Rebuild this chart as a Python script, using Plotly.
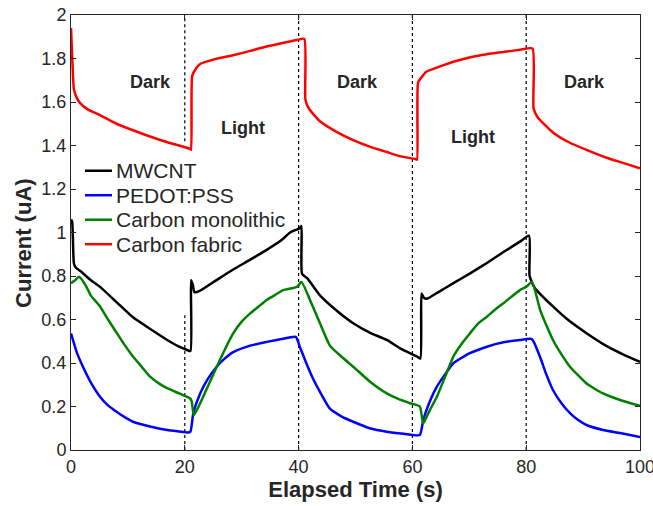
import plotly.graph_objects as go

# ---- data ----
fabric_t = [0, 0.3, 0.5, 1.0, 1.6, 3, 5.1, 8, 10.9, 14, 16.8, 19, 20.9, 21.1, 21.3, 22, 22.7, 25, 28.5, 31.5,
            34.4, 37, 39.7, 41.0, 41.2, 41.8, 43.8, 46.5, 49.6, 52.5, 55.5, 58, 60.5, 60.8, 61.0, 61.8, 62.5,
            65, 67.2, 70, 73.1, 76, 78.9, 81.1, 81.3, 82, 84.7, 87.5, 90.6, 94, 97, 100]
fabric_i = [1.94, 1.75, 1.66, 1.62, 1.595, 1.565, 1.54, 1.50, 1.47, 1.44, 1.416, 1.40, 1.384, 1.38, 1.72, 1.755,
            1.775, 1.795, 1.815, 1.835, 1.855, 1.87, 1.885, 1.89, 1.61, 1.57, 1.51, 1.465, 1.425, 1.395, 1.37,
            1.35, 1.338, 1.335, 1.69, 1.72, 1.74, 1.765, 1.785, 1.805, 1.82, 1.83, 1.84, 1.846, 1.57, 1.53,
            1.46, 1.415, 1.38, 1.345, 1.32, 1.295]

mwcnt_t = [0, 0.2, 0.5, 0.8, 2, 3.5, 5.1, 8, 10.9, 14, 16.9, 19, 20.4, 21.0, 21.1, 21.4, 21.7, 22.7, 25.5, 28.5,
           31.5, 34.4, 37, 38.5, 40.2, 40.5, 40.6, 41.5, 43.8, 46.5, 49.6, 52.5, 55.5, 58, 60.8, 61.4, 61.6,
           62, 62.5, 64.5, 67.2, 70, 73.1, 76, 78.9, 80.5, 80.6, 81.5, 84.7, 87.5, 90.6, 94, 97, 100]
mwcnt_i = [1.06, 1.05, 0.86, 0.84, 0.815, 0.78, 0.75, 0.68, 0.61, 0.555, 0.506, 0.475, 0.46, 0.455, 0.78, 0.76,
           0.725, 0.733, 0.78, 0.83, 0.875, 0.92, 0.965, 1.0, 1.02, 1.03, 0.81, 0.79, 0.71, 0.645, 0.583, 0.54,
           0.506, 0.465, 0.43, 0.42, 0.72, 0.70, 0.695, 0.725, 0.767, 0.81, 0.86, 0.91, 0.958, 0.985, 0.80,
           0.745, 0.66, 0.595, 0.537, 0.48, 0.44, 0.405]

mono_t = [0, 0.7, 1.4, 2.5, 3.5, 5.1, 6.5, 8, 9.5, 10.9, 12.5, 13.9, 15.5, 16.9, 19, 20.9, 21.2, 21.6, 22.7, 24,
          25.6, 27, 28.5, 30, 31.5, 33, 34.4, 36, 37.3, 39.7, 40.5, 42, 43.8, 45.5, 47.5, 49.6, 52.5, 55.5, 57.5,
          59.6, 61.3, 61.9, 63, 64.3, 65.8, 67.2, 68.7, 70.1, 71.5, 73.1, 74.5, 76, 78.9, 80, 81, 82.5, 84.7,
          86.2, 87.7, 90.6, 93.5, 96.5, 100]
mono_i = [0.767, 0.78, 0.796, 0.76, 0.71, 0.66, 0.60, 0.54, 0.48, 0.43, 0.38, 0.337, 0.305, 0.284, 0.26, 0.238,
          0.225, 0.16, 0.215, 0.29, 0.382, 0.46, 0.536, 0.59, 0.628, 0.66, 0.69, 0.715, 0.735, 0.75, 0.773, 0.69,
          0.58, 0.48, 0.43, 0.383, 0.315, 0.26, 0.235, 0.215, 0.2, 0.122, 0.18, 0.245, 0.34, 0.43, 0.49, 0.536,
          0.58, 0.613, 0.645, 0.675, 0.735, 0.75, 0.773, 0.64, 0.506, 0.44, 0.383, 0.306, 0.26, 0.23, 0.203]

pedot_t = [0, 1, 2.1, 3.5, 5.1, 6.5, 8, 9.5, 10.9, 13.9, 16.9, 19, 20.6, 21.0, 21.5, 22.7, 24, 25.6, 27, 28.5,
           31.5, 34.4, 37, 39.5, 40.2, 41.5, 42.5, 43.8, 45.5, 47.5, 49.6, 52.5, 55.5, 58.5, 61.3, 61.9, 63, 64.3,
           65.8, 67.2, 70.1, 73.1, 76, 78.9, 81, 82.4, 83.5, 84.7, 86.2, 87.7, 89, 90.6, 93.5, 96.5, 100]
pedot_i = [0.536, 0.45, 0.383, 0.31, 0.245, 0.205, 0.176, 0.15, 0.13, 0.108, 0.092, 0.085, 0.08, 0.085, 0.17,
           0.26, 0.325, 0.383, 0.42, 0.45, 0.48, 0.497, 0.51, 0.52, 0.475, 0.39, 0.33, 0.265, 0.19, 0.155, 0.13,
           0.1, 0.084, 0.075, 0.069, 0.138, 0.22, 0.291, 0.35, 0.399, 0.445, 0.475, 0.495, 0.506, 0.51, 0.43,
           0.35, 0.276, 0.215, 0.169, 0.14, 0.115, 0.092, 0.078, 0.06]

switch_times = [20, 40, 60, 80]
phase_labels = ["Dark", "Light", "Dark", "Light", "Dark"]
phase_x = [13.9, 30.2, 50.4, 70.7, 90.3]
phase_y = [1.69, 1.48, 1.69, 1.44, 1.69]

series = [
    ("MWCNT", mwcnt_t, mwcnt_i, "#000000"),
    ("PEDOT:PSS", pedot_t, pedot_i, "#0000FF"),
    ("Carbon monolithic", mono_t, mono_i, "#008000"),
    ("Carbon fabric", fabric_t, fabric_i, "#FF0000"),
]

FONT = "Liberation Sans, Arial, Helvetica, sans-serif"
INK = "#262626"

fig = go.Figure()
for name, t, i, c in series:
    fig.add_trace(go.Scatter(x=t, y=i, mode="lines", name=name, showlegend=False,
                             line=dict(color=c, width=2.5, shape="spline", smoothing=0.5)))

# dotted switching lines (the one at 20 s is interrupted behind the legend)
for s in switch_times:
    if s == 20:
        segs = [(0, 0.62), (1.42, 2)]
    else:
        segs = [(0, 2)]
    for y0, y1 in segs:
        fig.add_shape(type="line", x0=s, x1=s, y0=y0, y1=y1, xref="x", yref="y",
                      line=dict(color="black", width=1.2, dash="dot"), layer="below")

for lab, px, py in zip(phase_labels, phase_x, phase_y):
    fig.add_annotation(x=px, y=py, text="<b>%s</b>" % lab, showarrow=False,
                       font=dict(family=FONT, size=18, color=INK))

# legend (drawn as line samples + text, MATLAB-style compact spacing)
leg_x0, leg_x1, leg_tx = 0.0246, 0.072, 0.075
leg_top, leg_step = 0.642, 0.0563
for k, (name, t, i, c) in enumerate(series):
    yy = leg_top - k * leg_step
    fig.add_shape(type="line", xref="paper", yref="paper", x0=leg_x0, x1=leg_x1, y0=yy, y1=yy,
                  line=dict(color=c, width=2.5))
    fig.add_annotation(xref="paper", yref="paper", x=leg_tx, y=yy, text=name, showarrow=False,
                       xanchor="left", yanchor="middle",
                       font=dict(family=FONT, size=21, color=INK))

# y-axis title (placed like the reference, slightly below the plot's centre)
fig.add_annotation(xref="paper", yref="paper", x=-0.0826, y=0.476, text="<b>Current (uA)</b>",
                   showarrow=False, textangle=-90, xanchor="center", yanchor="middle",
                   font=dict(family=FONT, size=22, color=INK))

axis_common = dict(showgrid=False, zeroline=False, showline=True, linecolor=INK, linewidth=1,
                   mirror="ticks", ticks="inside", ticklen=5, tickcolor=INK, automargin=False,
                   ticklabeloverflow="allow",
                   tickfont=dict(family=FONT, size=18, color=INK))

fig.update_xaxes(range=[0, 100], tickvals=[0, 20, 40, 60, 80, 100],
                 title=dict(text="<b>Elapsed Time (s)</b>", font=dict(family=FONT, size=22, color=INK),
                            standoff=6),
                 **axis_common)
fig.update_yaxes(range=[0, 2], tickvals=[0, 0.2, 0.4, 0.6, 0.8, 1, 1.2, 1.4, 1.6, 1.8, 2],
                 ticktext=["0", "0.2", "0.4", "0.6", "0.8", "1", "1.2", "1.4", "1.6", "1.8", "2"],
                 **axis_common)

fig.update_layout(
    width=653, height=506,
    margin=dict(l=71, r=13, t=15, b=56),
    paper_bgcolor="white", plot_bgcolor="white",
    showlegend=False,
)

fig.write_html("out.html")
